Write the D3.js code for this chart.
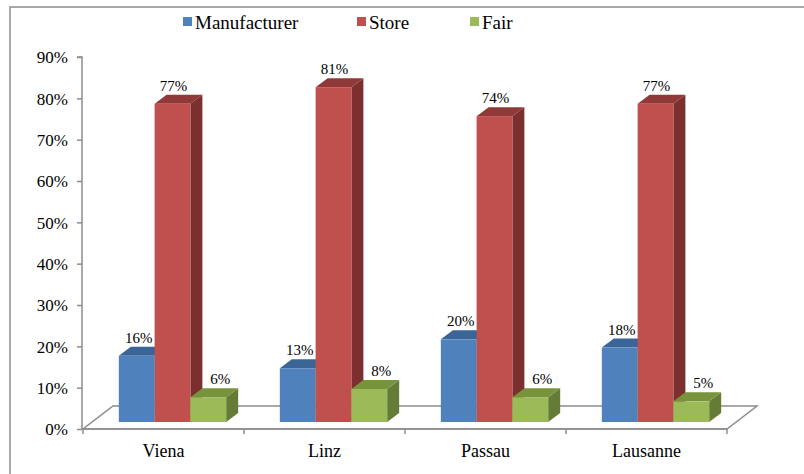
<!DOCTYPE html>
<html>
<head>
<meta charset="utf-8">
<script src="https://cdn.jsdelivr.net/npm/d3@7"></script>
<style>
  body { margin: 0; background: #fff; }
</style>
</head>
<body>
<div id="chart"></div>
<script>
var cities = ['Viena', 'Linz', 'Passau', 'Lausanne'];
var series_names = ['Manufacturer', 'Store', 'Fair'];
var manufacturer = [0.16, 0.13, 0.20, 0.18];
var store = [0.77, 0.81, 0.74, 0.77];
var fair = [0.06, 0.08, 0.06, 0.05];
var y_ticks = [0, 0.1, 0.2, 0.3, 0.4, 0.5, 0.6, 0.7, 0.8, 0.9];

// front, top, side shades per series
var colours = [
  {front: '#4f81bd', top: '#3b6596', side: '#385d8a'},
  {front: '#c0504d', top: '#8f3a38', side: '#7b2f2e'},
  {front: '#9bbb59', top: '#77933c', side: '#657c36'}
];

var SERIF = "'Liberation Serif', 'Times New Roman', serif";

function BarPlotter() {
  this._width = 804;
  this._height = 474;
  this._floor_dx = 30;
  this._floor_dy = -23;
  this._bar_shift_x = 9;   // bars stand part way into the floor
  this._bar_shift_y = -7;
  this._bar_dx = 12;
  this._bar_dy = -9;
  this._label_shift = [2, 1, 12];  // excel pushes the short bar labels to the right
}

BarPlotter.prototype._poly = function(pts) {
  return pts.map(p => p[0] + ',' + p[1]).join(' ');
}

BarPlotter.prototype.plot = function(container) {
  let self = this;
  let values = [manufacturer, store, fair];

  let svg = d3.select(container).append('svg:svg')
    .attr('width', this._width)
    .attr('height', this._height)
    .attr('font-family', SERIF);

  // outer frame
  svg.append('path')
    .attr('d', 'M10,' + this._height + 'V7H' + this._width)
    .attr('fill', 'none')
    .attr('stroke', '#8c8c8c')
    .attr('stroke-width', 1.5);

  let x = d3.scaleBand().domain(cities).range([83, 727]);
  let inner = d3.scaleBand().domain(series_names).range([0, x.bandwidth()]).paddingOuter(0.75).paddingInner(0);
  let y = d3.scaleLinear().domain([0, 0.9]).range([429, 57]);

  // floor
  let x0 = x.range()[0], x1 = x.range()[1], y0 = y(0);
  svg.append('polygon')
    .attr('points', this._poly([[x0, y0], [x1, y0], [x1 + this._floor_dx, y0 + this._floor_dy], [x0 + this._floor_dx, y0 + this._floor_dy]]))
    .attr('fill', '#fff')
    .attr('stroke', '#8c8c8c')
    .attr('stroke-width', 1.5);

  // y axis
  let yAxis = d3.axisLeft(y).tickValues(y_ticks).tickSize(5).tickPadding(9).tickFormat(d3.format('.0%'));
  let ya = svg.append('g').attr('transform', 'translate(82,0)').call(yAxis)
    .attr('font-family', SERIF).attr('font-size', 17);
  ya.selectAll('path, line').attr('stroke', '#8c8c8c').attr('stroke-width', 1.5);
  ya.select('.domain').attr('d', 'M-5,' + y(0.9) + 'H0V' + y(0));
  ya.selectAll('text').attr('fill', '#000').attr('dy', '0.35em');

  // x axis
  let xa = svg.append('g').attr('transform', 'translate(0,' + y0 + ')');
  xa.append('line').attr('x1', x0).attr('x2', x1).attr('stroke', '#8c8c8c').attr('stroke-width', 1.5);
  xa.selectAll('line.tick')
    .data(cities.concat(['end']))
    .join('line')
    .attr('class', 'tick')
    .attr('x1', d => d === 'end' ? x1 : x(d))
    .attr('x2', d => d === 'end' ? x1 : x(d))
    .attr('y1', 0).attr('y2', 5)
    .attr('stroke', '#8c8c8c').attr('stroke-width', 1.5);
  xa.selectAll('text')
    .data(cities)
    .join('text')
    .attr('x', d => x(d) + x.bandwidth() / 2)
    .attr('y', 28)
    .attr('text-anchor', 'middle')
    .attr('font-size', 18)
    .text(d => d);

  // bars
  let bars = [];
  cities.forEach(function(c, ci) {
    series_names.forEach(function(s, si) {
      bars.push({city: c, series: si, v: values[si][ci]});
    });
  });

  let g = svg.append('g');
  bars.forEach(function(b) {
    let bx = x(b.city) + inner(series_names[b.series]) + self._bar_shift_x;
    let bw = inner.bandwidth();
    let by = y(b.v) + self._bar_shift_y;
    let bb = y(0) + self._bar_shift_y;
    let dx = self._bar_dx, dy = self._bar_dy;
    let col = colours[b.series];

    g.append('polygon')
      .attr('points', self._poly([[bx + bw, by], [bx + bw + dx, by + dy], [bx + bw + dx, bb + dy], [bx + bw, bb]]))
      .attr('fill', col.side);
    g.append('polygon')
      .attr('points', self._poly([[bx, by], [bx + dx, by + dy], [bx + bw + dx, by + dy], [bx + bw, by]]))
      .attr('fill', col.top);
    g.append('rect')
      .attr('x', bx).attr('y', by)
      .attr('width', bw).attr('height', bb - by)
      .attr('fill', col.front);
    g.append('text')
      .attr('x', bx + bw / 2 + self._label_shift[b.series])
      .attr('y', by + dy - 4)
      .attr('text-anchor', 'middle')
      .attr('font-size', 15)
      .text(d3.format('.0%')(b.v));
  });

  // legend
  let legend_x = [183, 357, 470];
  let lg = svg.append('g').selectAll('g')
    .data(series_names)
    .join('g')
    .attr('transform', (d, i) => 'translate(' + legend_x[i] + ',17)');
  lg.append('rect').attr('width', 9).attr('height', 9).attr('fill', (d, i) => colours[i].front);
  lg.append('text').attr('x', 12).attr('y', 12).attr('font-size', 19).text(d => d);
}

new BarPlotter().plot('#chart');
</script>
</body>
</html>
